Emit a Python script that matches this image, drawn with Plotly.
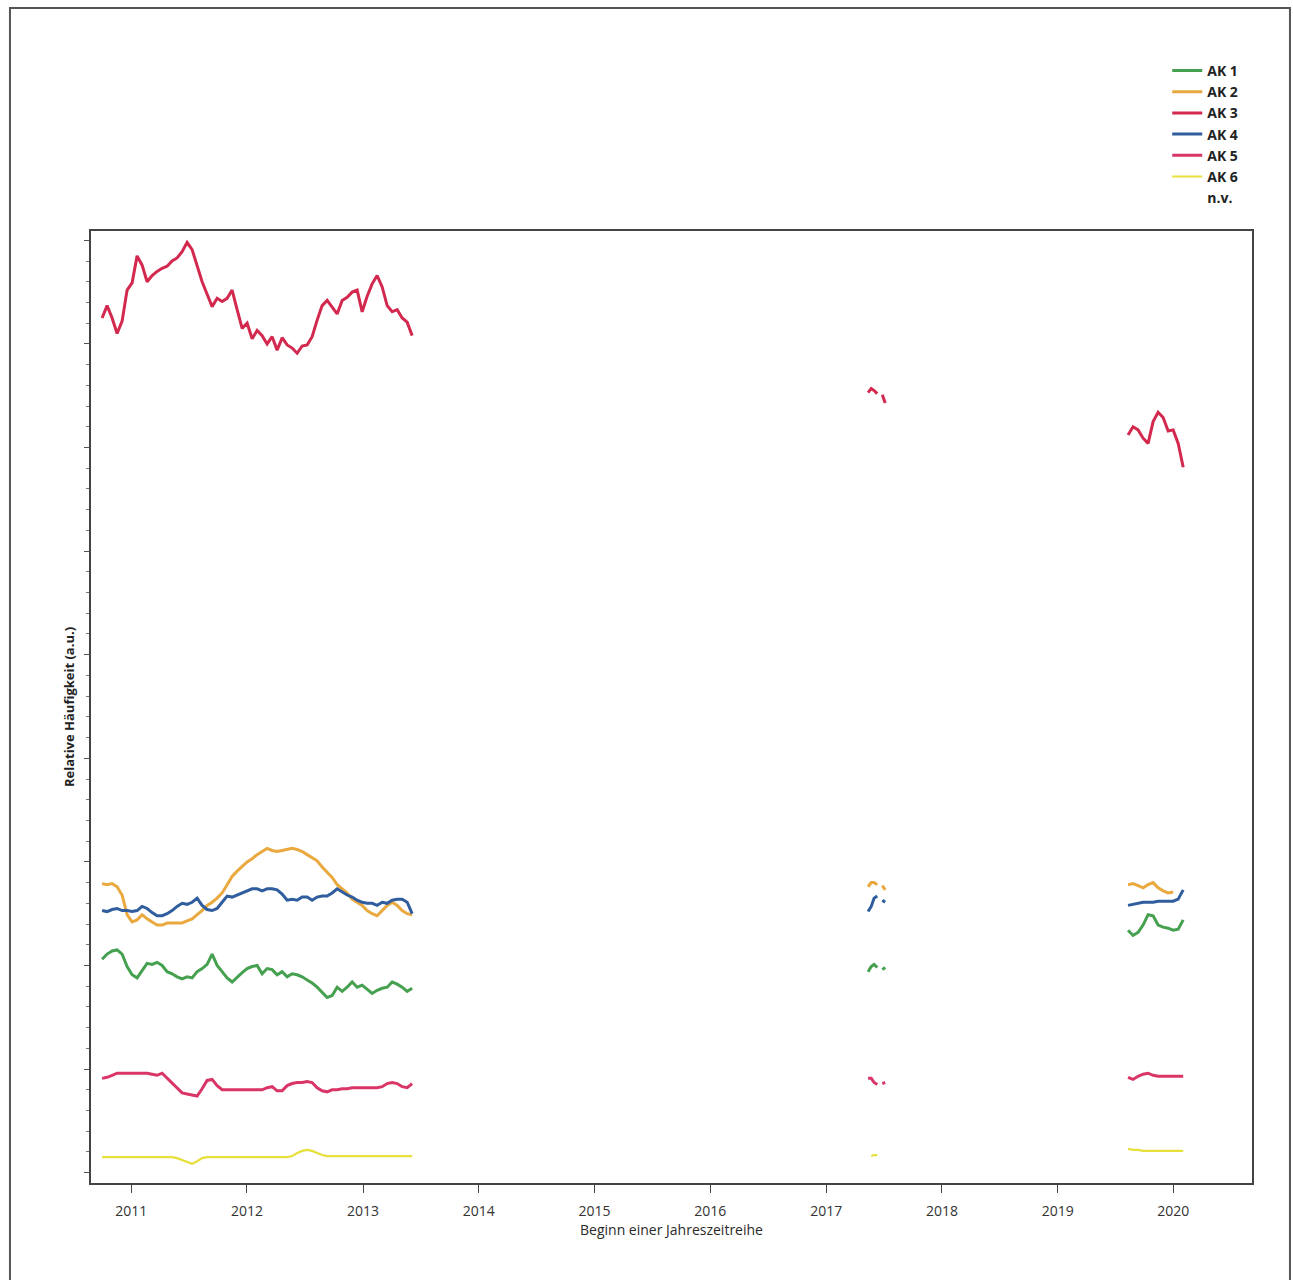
import pandas as pd
import plotly.graph_objects as go

# ---- data -----------------------------------------------------------------
dates_seg1 = list(pd.date_range("2010-10-01", "2013-06-05", periods=63))
dates_seg2 = ["2017-05-13", "2017-05-23", "2017-06-01", "2017-06-11",
              "2017-06-19", "2017-06-27", "2017-07-06"]
dates_seg3 = list(pd.date_range("2019-08-11", "2020-02-01", periods=12))
gap_dates = ["2015-06-01", "2018-06-01"]

series_names = ["AK 1", "AK 2", "AK 3", "AK 4", "AK 5", "AK 6"]
series_colors = ["#45a04f", "#e9a93f", "#d3294f", "#2f5d9d", "#d93567", "#e6df3c"]

ak1_seg1 = [20.6, 21.1, 21.4, 21.5, 21.1, 19.9, 19.1, 18.8, 19.5, 20.2,
            20.1, 20.3, 20.0, 19.4, 19.2, 18.9, 18.7, 18.9, 18.8, 19.4,
            19.7, 20.1, 21.1, 20.0, 19.4, 18.8, 18.4, 18.9, 19.3, 19.7,
            19.9, 20.0, 19.2, 19.7, 19.6, 19.1, 19.4, 18.9, 19.2, 19.1,
            18.9, 18.6, 18.3, 17.9, 17.4, 16.9, 17.1, 17.9, 17.5, 17.9,
            18.4, 17.9, 18.1, 17.7, 17.3, 17.6, 17.8, 17.9, 18.4, 18.2,
            17.9, 17.5, 17.8]
ak2_seg1 = [27.9, 27.8, 27.9, 27.6, 26.8, 24.9, 24.2, 24.4, 24.9, 24.5,
            24.2, 23.9, 23.9, 24.1, 24.1, 24.1, 24.1, 24.3, 24.5, 24.9,
            25.3, 25.8, 26.1, 26.5, 27.0, 27.8, 28.6, 29.1, 29.6, 30.0,
            30.3, 30.7, 31.0, 31.3, 31.1, 31.0, 31.1, 31.2, 31.3, 31.2,
            31.0, 30.7, 30.4, 30.1, 29.5, 29.0, 28.5, 27.8, 27.4, 27.0,
            26.4, 26.1, 25.8, 25.3, 25.0, 24.8, 25.3, 25.8, 26.1, 25.8,
            25.3, 25.0, 24.9]
ak3_seg1 = [82.5, 83.7, 82.5, 81.0, 82.2, 85.2, 85.9, 88.5, 87.6, 86.0,
            86.6, 87.0, 87.3, 87.5, 88.0, 88.3, 88.9, 89.8, 89.1, 87.5,
            86.0, 84.8, 83.6, 84.4, 84.1, 84.4, 85.2, 83.3, 81.5, 82.0,
            80.5, 81.3, 80.8, 80.0, 80.7, 79.4, 80.6, 79.9, 79.6, 79.1,
            79.8, 79.9, 80.7, 82.3, 83.7, 84.2, 83.6, 82.9, 84.2, 84.5,
            85.0, 85.2, 83.1, 84.6, 85.8, 86.6, 85.5, 83.7, 83.1, 83.3,
            82.5, 82.1, 80.8]
ak4_seg1 = [25.3, 25.2, 25.4, 25.5, 25.3, 25.3, 25.2, 25.3, 25.7, 25.5,
            25.1, 24.8, 24.8, 25.0, 25.3, 25.7, 26.0, 25.9, 26.1, 26.5,
            25.8, 25.4, 25.3, 25.5, 26.1, 26.7, 26.6, 26.8, 27.0, 27.2,
            27.4, 27.4, 27.2, 27.4, 27.4, 27.3, 26.9, 26.3, 26.4, 26.3,
            26.6, 26.6, 26.3, 26.6, 26.7, 26.7, 27.0, 27.4, 27.1, 26.8,
            26.6, 26.3, 26.1, 26.0, 26.0, 25.8, 26.1, 26.0, 26.3, 26.4,
            26.4, 26.1, 25.0]
ak5_seg1 = [9.1, 9.2, 9.4, 9.6, 9.6, 9.6, 9.6, 9.6, 9.6, 9.6,
            9.5, 9.4, 9.6, 9.1, 8.6, 8.1, 7.7, 7.6, 7.5, 7.4,
            8.1, 8.9, 9.0, 8.4, 8.0, 8.0, 8.0, 8.0, 8.0, 8.0,
            8.0, 8.0, 8.0, 8.2, 8.3, 7.9, 7.9, 8.4, 8.6, 8.7,
            8.7, 8.8, 8.7, 8.2, 7.9, 7.8, 8.0, 8.0, 8.1, 8.1,
            8.2, 8.2, 8.2, 8.2, 8.2, 8.2, 8.3, 8.6, 8.7, 8.6,
            8.3, 8.2, 8.6]
ak6_seg1 = [1.5, 1.5, 1.5, 1.5, 1.5, 1.5, 1.5, 1.5, 1.5, 1.5,
            1.5, 1.5, 1.5, 1.5, 1.5, 1.4, 1.2, 1.0, 0.85, 1.1,
            1.4, 1.5, 1.5, 1.5, 1.5, 1.5, 1.5, 1.5, 1.5, 1.5,
            1.5, 1.5, 1.5, 1.5, 1.5, 1.5, 1.5, 1.5, 1.6, 1.9,
            2.1, 2.2, 2.1, 1.9, 1.7, 1.6, 1.6, 1.6, 1.6, 1.6,
            1.6, 1.6, 1.6, 1.6, 1.6, 1.6, 1.6, 1.6, 1.6, 1.6,
            1.6, 1.6, 1.6]

ak1_seg2 = [19.4, 19.9, 20.1, 19.8, None, 19.6, 19.8]
ak2_seg2 = [27.6, 28.0, 28.0, 27.8, None, 27.7, 27.3]
ak3_seg2 = [75.3, 75.7, 75.5, 75.2, None, 75.1, 74.3]
ak4_seg2 = [25.2, 25.7, 26.5, 26.7, None, 26.3, 26.1]
ak5_seg2 = [9.1, 9.1, 8.7, 8.5, None, 8.6, 8.7]
ak6_seg2 = [None, 1.6, 1.7, 1.7, None, None, None]

ak1_seg3 = [23.4, 22.9, 23.2, 23.9, 24.9, 24.8, 23.9, 23.7, 23.6, 23.4, 23.5, 24.4]
ak2_seg3 = [27.8, 27.9, 27.7, 27.5, 27.8, 28.0, 27.5, 27.2, 27.0, 27.1, None, None]
ak3_seg3 = [71.2, 72.0, 71.7, 70.9, 70.4, 72.5, 73.4, 72.9, 71.6, 71.7, 70.4, 68.1]
ak4_seg3 = [25.8, 25.9, 26.0, 26.1, 26.1, 26.1, 26.2, 26.2, 26.2, 26.2, 26.4, 27.3]
ak5_seg3 = [9.2, 9.0, 9.3, 9.5, 9.6, 9.4, 9.3, 9.3, 9.3, 9.3, 9.3, 9.3]
ak6_seg3 = [2.3, 2.2, 2.2, 2.1, 2.1, 2.1, 2.1, 2.1, 2.1, 2.1, 2.1, 2.1]

year_ticks = ["2011-01-01", "2012-01-01", "2013-01-01", "2014-01-01", "2015-01-01",
              "2016-01-01", "2017-01-01", "2018-01-01", "2019-01-01", "2020-01-01"]
year_labels = ["2011", "2012", "2013", "2014", "2015",
               "2016", "2017", "2018", "2019", "2020"]

# ---- figure ---------------------------------------------------------------
all_dates = dates_seg1 + [gap_dates[0]] + dates_seg2 + [gap_dates[1]] + dates_seg3
segs = [
    (ak1_seg1, ak1_seg2, ak1_seg3),
    (ak2_seg1, ak2_seg2, ak2_seg3),
    (ak3_seg1, ak3_seg2, ak3_seg3),
    (ak4_seg1, ak4_seg2, ak4_seg3),
    (ak5_seg1, ak5_seg2, ak5_seg3),
    (ak6_seg1, ak6_seg2, ak6_seg3),
]

fig = go.Figure()
for name, color, (s1, s2, s3) in zip(series_names, series_colors, segs):
    ys = s1 + [None] + s2 + [None] + s3
    fig.add_trace(go.Scatter(
        x=all_dates, y=ys, mode="lines", name=name,
        line=dict(color=color, width=2.2 if name == "AK 6" else 3),
        connectgaps=False,
    ))
fig.add_trace(go.Scatter(x=[None], y=[None], mode="lines", name="n.v.",
                         line=dict(color="rgba(0,0,0,0)", width=0)))

FONT = "Open Sans, Noto Sans, sans-serif"

fig.update_layout(
    width=1293, height=1280,
    margin=dict(l=91, r=41, t=231, b=97),
    paper_bgcolor="white", plot_bgcolor="white",
    font=dict(family=FONT, color="#333333", size=13),
    showlegend=True,
    legend=dict(
        x=0.927, y=1.185, xanchor="left", yanchor="top",
        font=dict(family=FONT, size=14, color="#222222", weight="bold"),
        bgcolor="rgba(0,0,0,0)", itemwidth=30, tracegroupgap=0,
    ),
    shapes=[dict(type="rect", xref="paper", yref="paper",
                 x0=-0.0698, x1=1.0327, y0=-0.2, y1=1.2342,
                 line=dict(color="#555555", width=2), fillcolor="rgba(0,0,0,0)",
                 layer="below")],
)

fig.update_xaxes(
    type="date", range=["2010-08-27", "2020-09-05"],
    tickmode="array", tickvals=year_ticks, ticktext=year_labels,
    ticks="outside", ticklen=8, tickcolor="#444444", tickwidth=1,
    ticklabelstandoff=6,
    tickfont=dict(family=FONT, size=14, color="#333333"),
    showgrid=False, zeroline=False,
    showline=True, linecolor="#444444", linewidth=2, mirror=True,
    title=dict(text="Beginn einer Jahreszeitreihe", standoff=4,
               font=dict(family=FONT, size=14, color="#2a2a2a")),
)
fig.update_yaxes(
    range=[-1.0, 90.9],
    tick0=0, dtick=10, ticks="outside", ticklen=5, tickcolor="#555555",
    minor=dict(dtick=2, ticks="outside", ticklen=3, tickcolor="#777777"),
    showticklabels=False, showgrid=False, zeroline=False,
    showline=True, linecolor="#444444", linewidth=2, mirror=True,
    title=dict(text="Relative Häufigkeit (a.u.)", standoff=6,
               font=dict(family=FONT, size=13, color="#222222", weight="bold")),
)

fig.write_html("out.html", config={"displayModeBar": False},
               post_script="document.body.style.margin='0';")
